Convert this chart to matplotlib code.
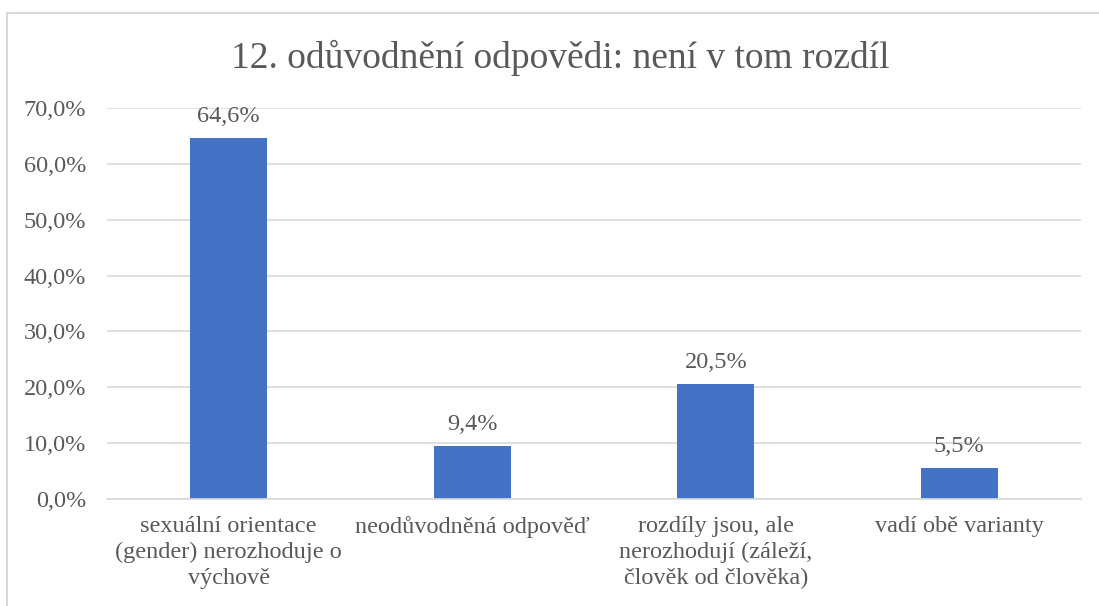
import matplotlib
matplotlib.use("Agg")
import matplotlib.pyplot as plt
from matplotlib.lines import Line2D
from matplotlib.ticker import FuncFormatter

categories = [
    "sexuální orientace\n(gender) nerozhoduje o\nvýchově",
    "neodůvodněná odpověď",
    "rozdíly jsou, ale\nnerozhodují (záleží,\nčlověk od člověka)",
    "vadí obě varianty",
]
values = [64.6, 9.4, 20.5, 5.5]
labels = ["64,6%", "9,4%", "20,5%", "5,5%"]
yticks = [0, 10, 20, 30, 40, 50, 60, 70]
title = "12. odůvodnění odpovědi: není v tom rozdíl"

plt.rcParams['font.family'] = ['Liberation Serif', 'DejaVu Serif']
txt = "#595959"
grid = "#D9D9D9"
bar_c = "#4472C4"
fs = 17.5

fig = plt.figure(figsize=(10.99, 6.06), dpi=100)
W, H = 1099, 606
ax = fig.add_axes([107 / W, 1 - 499 / H, (1081 - 107) / W, (499 - 108) / H])

x = list(range(len(categories)))
bars = ax.bar(x, values, width=0.316, color=bar_c, zorder=3)
for xi, v, lab in zip(x, values, labels):
    ax.annotate(lab, (xi, v), xytext=(0, 8), textcoords="offset points",
                ha="center", va="bottom", fontsize=fs, color=txt)

ax.set_xlim(-0.5, len(categories) - 0.5)
ax.set_ylim(0, 70)
ax.set_yticks(yticks)
ax.yaxis.set_major_formatter(FuncFormatter(lambda v, p: f"{v:.1f}".replace(".", ",") + "%"))
ax.set_xticks(x)
ax.set_xticklabels(categories, fontsize=fs, color=txt, linespacing=1.3)
ax.tick_params(axis="y", labelsize=fs, colors=txt, length=0, pad=15)
ax.tick_params(axis="x", length=0, pad=12)
ax.grid(axis="y", color=grid, linewidth=1.2, zorder=0)
for s in ["top", "right", "left"]:
    ax.spines[s].set_visible(False)
ax.spines["bottom"].set_color(grid)
ax.spines["bottom"].set_linewidth(1.2)
ax.spines["bottom"].set_zorder(4)

fig.text(560 / W, 1 - 58 / H, title, ha="center", va="center", fontsize=27, color=txt)

# chart frame
fig.add_artist(Line2D([7 / W, 1], [1 - 13 / H, 1 - 13 / H], color=grid, linewidth=1.5,
                      transform=fig.transFigure))
fig.add_artist(Line2D([7 / W, 7 / W], [0, 1 - 13 / H], color=grid, linewidth=1.5,
                      transform=fig.transFigure))

fig.savefig("out.png", dpi=100, facecolor="white")
